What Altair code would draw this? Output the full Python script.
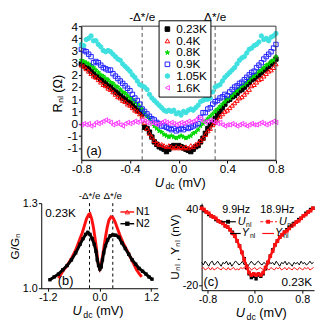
import altair as alt
import pandas as pd

FONT = "Liberation Sans"

# ---------------- panel (a): R_nl vs U_dc for several temperatures ----------------
A_V = [round(-0.80 + 0.02 * i, 2) for i in range(81)]
A_T = ["0.23K", "0.4K", "0.8K", "0.9K", "1.05K", "1.6K"]
A_R_023 = [2.45, 2.40, 2.30, 2.25, 2.15, 2.05, 1.95, 1.90, 1.80,
           1.75, 1.65, 1.55, 1.50, 1.40, 1.30, 1.25, 1.15, 1.05,
           1.00, 0.90, 0.85, 0.75, 0.65, 0.55, 0.50, 0.40, -0.15,
           -0.20, -0.35, -0.55, -0.75, -0.85, -0.95, -1.00, -1.05, -1.15,
           -1.05, -0.95, -0.90, -0.95, -0.90, -0.95, -1.00, -1.05, -1.10,
           -1.15, -1.05, -0.95, -0.90, -0.75, -0.60, -0.40, -0.20, -0.05,
           0.05, 0.20, 0.35, 0.50, 0.65, 0.80, 0.95, 1.00, 1.10,
           1.15, 1.25, 1.35, 1.40, 1.50, 1.60, 1.70, 1.80, 1.85,
           1.95, 2.00, 2.10, 2.20, 2.25, 2.35, 2.45, 2.55, 2.65]
A_R_04 = [2.40, 2.35, 2.25, 2.15, 2.05, 1.95, 1.90, 1.80, 1.70,
          1.60, 1.55, 1.45, 1.40, 1.30, 1.20, 1.10, 1.05, 0.95,
          0.90, 0.80, 0.75, 0.65, 0.55, 0.50, 0.40, 0.30, 0.05,
          -0.20, -0.40, -0.55, -0.70, -0.80, -0.85, -0.85, -0.90, -0.95,
          -0.90, -0.95, -1.00, -0.95, -1.00, -0.95, -1.00, -0.95, -1.00,
          -0.90, -0.95, -0.85, -0.80, -0.70, -0.60, -0.45, -0.30, -0.20,
          -0.05, 0.05, 0.15, 0.30, 0.40, 0.50, 0.55, 0.65, 0.75,
          0.85, 0.95, 1.05, 1.10, 1.20, 1.30, 1.40, 1.55, 1.60,
          1.70, 1.80, 1.85, 1.95, 2.05, 2.15, 2.20, 2.30, 2.45]
A_R_08 = [2.60, 2.55, 2.50, 2.45, 2.40, 2.30, 2.20, 2.10, 2.00,
          1.95, 1.85, 1.80, 1.70, 1.65, 1.55, 1.50, 1.40, 1.30,
          1.25, 1.15, 1.05, 1.00, 0.90, 0.80, 0.70, 0.60, 0.45,
          0.30, 0.20, 0.05, -0.10, -0.20, -0.30, -0.35, -0.45, -0.50,
          -0.55, -0.50, -0.55, -0.60, -0.55, -0.50, -0.55, -0.60, -0.55,
          -0.50, -0.40, -0.35, -0.25, -0.10, 0.00, 0.10, 0.20, 0.30,
          0.40, 0.50, 0.60, 0.70, 0.80, 0.90, 1.00, 1.05, 1.15,
          1.25, 1.35, 1.45, 1.55, 1.60, 1.70, 1.80, 1.90, 1.95,
          2.05, 2.15, 2.20, 2.30, 2.40, 2.45, 2.55, 2.60, 2.75]
A_R_09 = [3.05, 3.00, 2.95, 2.85, 2.75, 2.50, 2.55, 2.50, 2.40,
          2.30, 2.25, 2.20, 2.20, 2.05, 1.95, 1.85, 1.75, 1.65,
          1.55, 1.45, 1.35, 1.20, 1.05, 0.95, 0.80, 0.60, 0.50,
          0.40, 0.30, 0.20, 0.15, 0.05, 0.00, -0.10, -0.10, -0.15,
          -0.20, -0.25, -0.20, -0.30, -0.25, -0.20, -0.25, -0.15, -0.20,
          -0.15, -0.10, -0.05, 0.00, 0.25, 0.45, 0.45, 0.60, 0.65,
          0.80, 0.90, 0.95, 1.05, 1.10, 1.20, 1.15, 1.30, 1.40,
          1.50, 1.55, 1.65, 1.70, 1.80, 1.90, 2.00, 2.10, 2.15,
          2.30, 2.40, 2.50, 2.65, 2.75, 2.85, 2.95, 3.10, 3.25]
A_R_105 = [3.25, 3.20, 3.45, 3.50, 3.60, 3.40, 3.40, 3.25, 3.15,
           3.00, 2.95, 3.00, 2.95, 2.85, 2.75, 2.65, 2.60, 2.45,
           2.35, 2.25, 2.15, 2.00, 1.90, 1.75, 1.60, 1.55, 1.50,
           1.40, 1.20, 1.05, 0.95, 0.85, 0.75, 0.65, 0.55, 0.50,
           0.55, 0.50, 0.55, 0.40, 0.45, 0.35, 0.50, 0.45, 0.55,
           0.60, 0.55, 0.65, 0.75, 0.90, 0.95, 1.00, 1.00, 1.05,
           1.30, 1.50, 1.55, 1.60, 1.75, 1.90, 2.00, 2.10, 2.20,
           2.30, 2.45, 2.60, 2.70, 2.75, 2.90, 3.05, 3.10, 3.20,
           3.25, 3.35, 3.60, 3.45, 3.50, 3.40, 3.55, 3.60, 3.70]
A_R_16 = [-0.05, 0.00, -0.05, 0.00, -0.10, -0.05, 0.05, 0.00, 0.05,
          0.10, 0.15, 0.10, 0.05, -0.05, 0.00, 0.05, -0.05, -0.10,
          0.00, 0.05, 0.00, 0.05, 0.10, 0.05, 0.10, 0.15, 0.10,
          0.05, 0.00, 0.05, 0.00, -0.05, 0.00, 0.05, 0.10, 0.05,
          0.00, 0.05, 0.00, -0.05, 0.00, 0.05, 0.00, 0.05, 0.10,
          0.05, 0.10, 0.15, 0.25, 0.20, 0.10, 0.05, 0.10, 0.15,
          0.10, 0.05, 0.00, 0.05, -0.05, -0.10, -0.05, -0.05, 0.00,
          -0.05, -0.10, -0.05, 0.00, -0.05, -0.10, -0.05, 0.00, -0.05,
          -0.05, 0.00, 0.05, 0.00, -0.05, 0.00, 0.05, 0.10, 0.05]
A_R = [A_R_023, A_R_04, A_R_08, A_R_09, A_R_105, A_R_16]
STAR = ("M0,-1L0.235,-0.324L0.951,-0.309L0.38,0.124L0.588,0.809L0,0.4"
        "L-0.588,0.809L-0.38,0.124L-0.951,-0.309L-0.235,-0.324Z")
A_COLORS = ["#000000", "#ff0000", "#00d800", "#2020ff", "#3fe0e0", "#ff3cff"]
A_FILLS = ["#000000", "transparent", "#00d800", "transparent", "#3fe0e0", "transparent"]
A_SHAPES = ["square", "triangle-up", STAR, "square", "circle", "triangle-left"]
A_XTICKS = [-0.8, -0.7, -0.6, -0.5, -0.4, -0.3, -0.2, -0.1, 0.0,
            0.1, 0.2, 0.3, 0.4, 0.5, 0.6, 0.7, 0.8]
A_YTICKS = [-1, -0.5, 0, 0.5, 1, 1.5, 2, 2.5, 3, 3.5, 4]
A_DASH = [-0.3, 0.3]
A_DASH_LAB = ["-Δ*/e", "Δ*/e"]

# ---------------- panel (b): G/G_n ----------------
B_N1_V = [-0.95, -0.85, -0.75, -0.65, -0.55, -0.45, -0.40, -0.35, -0.30, -0.25,
          -0.22, -0.18, -0.14, -0.10, -0.07, -0.04, -0.02, 0.01, 0.04, 0.07,
          0.10, 0.14, 0.18, 0.22, 0.27, 0.31, 0.36, 0.42, 0.48, 0.55,
          0.62, 0.70, 0.78, 0.86, 0.93, 0.98]
B_N1_G = [1.035, 1.06, 1.08, 1.105, 1.135, 1.175, 1.195, 1.22, 1.245, 1.26,
          1.263, 1.245, 1.215, 1.175, 1.14, 1.10, 1.08, 1.068, 1.08, 1.11,
          1.14, 1.18, 1.215, 1.24, 1.252, 1.25, 1.235, 1.21, 1.185, 1.16,
          1.14, 1.115, 1.09, 1.065, 1.05, 1.04]
B_N2_V = [-1.15, -1.05, -0.95, -0.85, -0.75, -0.65, -0.55, -0.45, -0.38, -0.32,
          -0.27, -0.22, -0.17, -0.12, -0.08, -0.05, -0.02, 0.01, 0.04, 0.07,
          0.10, 0.14, 0.19, 0.25, 0.31, 0.38, 0.45, 0.52, 0.60, 0.68,
          0.76, 0.84, 0.92, 1.00, 1.08, 1.15, 1.22]
B_N2_G = [1.03, 1.04, 1.05, 1.065, 1.08, 1.10, 1.125, 1.155, 1.175, 1.19,
          1.197, 1.19, 1.175, 1.155, 1.13, 1.10, 1.08, 1.068, 1.075, 1.10,
          1.125, 1.15, 1.17, 1.185, 1.188, 1.187, 1.18, 1.16, 1.14, 1.12,
          1.10, 1.085, 1.07, 1.06, 1.05, 1.04, 1.032]
B_XTICKS = [-1.2, -0.9, -0.6, -0.3, 0.0, 0.3, 0.6, 0.9, 1.2]
B_YTICKS = [1.0, 1.05, 1.1, 1.15, 1.2, 1.25, 1.3]
B_DASH = [-0.23, 0.31]

# ---------------- panel (c): U_nl, Y_nl ----------------
C_VU = [round(-0.90 + 0.04 * i, 2) for i in range(48)]
C_U_99 = [42, 39, 38, 36, 35, 34, 32, 31,
          30, 29, 27, 26, 24, 22, 19, 15,
          11, 6, 1, -6, -11, -14, -13, -15,
          -12, -13, -11, -7, -2, 3, 8, 12,
          15, 18, 20, 22, 24, 26, 27, 29,
          30, 32, 33, 35, 37, 38, 40, 41]
C_U_189 = [41, 40, 38, 37, 35, 34, 33, 31,
           30, 29, 27, 26, 24, 21, 19, 15,
           11, 6, 0, -5, -10, -12, -11, -12,
           -11, -12, -10, -6, -2, 3, 7, 12,
           15, 18, 20, 22, 23, 25, 27, 28,
           30, 31, 33, 35, 36, 38, 39, 41]
C_VY = [round(-0.90 + 0.03 * i, 2) for i in range(64)]
C_Y_99 = [-2, -4, -1, -3, -5, -2, -1, -4,
          -3, -1, -3, -5, -2, -3, -1, -4,
          -2, -5, -3, -1, -2, -4, -3, -1,
          -4, -2, -5, -3, -1, -3, -4, -2,
          -1, -3, -4, -2, -3, -5, -1, -3,
          -2, -4, -1, -3, -5, -2, -3, -1,
          -4, -2, -3, -5, -2, -3, -2, -4,
          -1, -3, -2, -4, -3, -1, -3, -2]
C_Y_189 = [-7, -6, -8, -7, -6, -8, -6, -8,
           -7, -6, -7, -8, -6, -7, -8, -6,
           -8, -7, -6, -8, -7, -8, -6, -7,
           -6, -8, -7, -6, -8, -7, -6, -8,
           -7, -6, -7, -8, -6, -7, -8, -6,
           -7, -8, -6, -7, -6, -8, -7, -6,
           -8, -6, -7, -8, -6, -7, -8, -6,
           -7, -8, -6, -7, -6, -8, -7, -6]
C_XTICKS = [-0.8, -0.6, -0.4, -0.2, 0.0, 0.2, 0.4, 0.6, 0.8]
C_YTICKS = [-20, -10, 0, 10, 20, 30, 40]

# ---------------- sizes ----------------
WA, HA = 199, 137
WB, HB = 119, 87
WC, HC = 115, 89
LEFT_A = 41

ONE = pd.DataFrame({"k": [0]})


def txt(x, y, s, size=12, align="left", baseline="middle", style="normal", color="black"):
    return alt.Chart(pd.DataFrame({"t": [s]})).mark_text(
        align=align, baseline=baseline, fontSize=size, font=FONT,
        fontStyle=style, color=color).encode(
        x=alt.value(x), y=alt.value(y), text="t:N")


def seg(x1, x2, y, color, width=1.5, dash=None):
    kw = dict(color=color, strokeWidth=width)
    if dash:
        kw["strokeDash"] = dash
    return alt.Chart(ONE).mark_rule(**kw).encode(
        x=alt.value(x1), x2=alt.value(x2), y=alt.value(y))


def sym(x, y, shape, color, filled, size=20):
    return alt.Chart(ONE).mark_point(shape=shape, filled=filled, color=color,
                                     size=size, opacity=1, strokeWidth=1).encode(
        x=alt.value(x), y=alt.value(y))


def frame(w, h):
    return alt.Chart(ONE).mark_rect(fill="white", fillOpacity=0, stroke="#333",
                                    strokeWidth=1).encode(
        x=alt.value(0), x2=alt.value(w), y=alt.value(0), y2=alt.value(h))


def udc_title(cx, base):
    x0 = cx - 25
    return [txt(x0, base, "U", 13, baseline="alphabetic", style="italic"),
            txt(x0 + 11, base + 3, "dc", 9, baseline="alphabetic"),
            txt(x0 + 24, base, "(mV)", 13, baseline="alphabetic")]


def sub_label(x, y, main, sub, color="black", size=11):
    return [txt(x, y, main, size, style="italic", color=color),
            txt(x + 8.5, y + 3, sub, 7, color=color)]


def lab_expr(mult, scale, fmt):
    return ("abs(round(datum.value*%d)) %% %d == 0 ? "
            "replace(format(datum.value, '%s'), '\u2212', '-') : ''" % (scale, mult, fmt))


def axis(values, expr, title=None, lsize=12, **kw):
    return alt.Axis(values=values, labelExpr=expr, title=title, tickSize=3,
                    labelPadding=1, labelFontSize=lsize, labelFlush=False,
                    labelOverlap=False, grid=False, **kw)


# ---------------- build panel (a) ----------------
rows = []
for t, vals in zip(A_T, A_R):
    for v, r in zip(A_V, vals):
        rows.append({"V": v, "R": r, "T": t})
dfa = pd.DataFrame(rows)

leg = alt.Legend(title=None, orient="none", legendX=LEFT_A + 79, legendY=-6, direction="vertical",
                 strokeColor="black", fillColor="white", padding=3, rowPadding=0,
                 labelFontSize=12, labelFont=FONT, symbolSize=22, labelOffset=3,
                 symbolStrokeWidth=1, labelLimit=80)
xa = alt.X("V:Q", scale=alt.Scale(domain=[-0.8, 0.8], nice=False, zero=False),
           axis=axis(A_XTICKS, lab_expr(4, 10, ".1f")))
ya = alt.Y("R:Q", scale=alt.Scale(domain=[-1.5, 4], nice=False, zero=False),
           axis=axis(A_YTICKS, lab_expr(1, 1, "d"), title="Rₙₗ (Ω)", titleFontSize=13,
                     titlePadding=3, titleFont=FONT))
pts_a = alt.Chart(dfa).mark_point(opacity=1, size=20, strokeWidth=1).encode(
    x=xa, y=ya,
    stroke=alt.Stroke("T:N", scale=alt.Scale(domain=A_T, range=A_COLORS), legend=leg),
    fill=alt.Fill("T:N", scale=alt.Scale(domain=A_T, range=A_FILLS), legend=leg),
    shape=alt.Shape("T:N", scale=alt.Scale(domain=A_T, range=A_SHAPES), legend=leg),
)
dash_df_a = pd.DataFrame({"V": A_DASH, "lab": A_DASH_LAB})
dash_a = alt.Chart(dash_df_a).mark_rule(color="#555", strokeDash=[4, 3], strokeWidth=1).encode(x="V:Q")
dlab_a = alt.Chart(dash_df_a).mark_text(baseline="bottom", fontSize=12, font=FONT).encode(
    x="V:Q", y=alt.value(-2), text="lab:N")
panel_a = alt.layer(
    dash_a, pts_a, dlab_a, frame(WA, HA),
    txt(5, HA - 9, "(a)", 13),
    *udc_title(100, HA + 27),
).properties(width=WA, height=HA)

spacer = alt.Chart(ONE).mark_point(opacity=0).encode(
    x=alt.value(0), y=alt.value(0)).properties(width=LEFT_A, height=HA)
row1 = alt.hconcat(spacer, panel_a, spacing=0, bounds="flush")

# ---------------- build panel (b) ----------------
df_n1 = pd.DataFrame({"V": B_N1_V, "G": B_N1_G})
df_n2 = pd.DataFrame({"V": B_N2_V, "G": B_N2_G})
xb = alt.X("V:Q", scale=alt.Scale(domain=[-1.35, 1.35], nice=False, zero=False),
           axis=axis(B_XTICKS, lab_expr(6, 10, ".1f"), lsize=11))
yb = alt.Y("G:Q", scale=alt.Scale(domain=[1.0, 1.3], nice=False, zero=False),
           axis=axis(B_YTICKS, lab_expr(10, 100, ".1f"), title="G/Gₙ", lsize=11,
                     titleFontSize=12, titlePadding=1, titleFont=FONT))
line_n1 = alt.Chart(df_n1).mark_line(color="#ff1010", strokeWidth=3).encode(x=xb, y=yb)
line_n2 = alt.Chart(df_n2).mark_line(color="black", strokeWidth=3).encode(x="V:Q", y="G:Q")
pts_n2 = alt.Chart(df_n2).mark_point(shape="square", filled=True, color="black",
                                     size=12, opacity=1).encode(x="V:Q", y="G:Q")
dash_df_b = pd.DataFrame({"V": B_DASH, "lab": A_DASH_LAB})
dash_b = alt.Chart(dash_df_b).mark_rule(color="black", strokeDash=[3, 3], strokeWidth=1).encode(x="V:Q")
dlab_b = alt.Chart(dash_df_b).mark_text(baseline="bottom", fontSize=10, font=FONT).encode(
    x="V:Q", y=alt.value(-2), text="lab:N")
panel_b = alt.layer(
    dash_b, line_n1, line_n2, pts_n2, dlab_b,
    txt(4, 10, "0.23K", 12),
    txt(17, HB - 7, "(b)", 13),
    seg(WB - 38, WB - 24, 9, "#ff1010", 1.5), sym(WB - 31, 9, "triangle-up", "#ff1010", False, 20),
    txt(WB - 22, 9, "N1", 11),
    seg(WB - 38, WB - 24, 21, "black", 1.5), sym(WB - 31, 21, "square", "black", True, 20),
    txt(WB - 22, 21, "N2", 11),
    *udc_title(57, HB + 27),
).properties(width=WB, height=HB)

# ---------------- build panel (c) ----------------
df_u99 = pd.DataFrame({"V": C_VU, "U": C_U_99})
df_u189 = pd.DataFrame({"V": C_VU, "U": C_U_189})
df_y99 = pd.DataFrame({"V": C_VY, "U": C_Y_99})
df_y189 = pd.DataFrame({"V": C_VY, "U": C_Y_189})
xc = alt.X("V:Q", scale=alt.Scale(domain=[-0.9, 1.0], nice=False, zero=False),
           axis=axis(C_XTICKS, lab_expr(4, 10, ".1f"), lsize=11))
yc = alt.Y("U:Q", scale=alt.Scale(domain=[-24, 45], nice=False, zero=False),
           axis=axis(C_YTICKS, lab_expr(20, 1, "d"), title="Uₙₗ , Yₙₗ (nV)", lsize=11,
                     titleFontSize=12, titlePadding=1, titleFont=FONT))
y99 = alt.Chart(df_y99).mark_line(color="black", strokeWidth=1).encode(x=xc, y=yc)
y189 = alt.Chart(df_y189).mark_line(color="#ff1010", strokeWidth=1).encode(x="V:Q", y="U:Q")
u99l = alt.Chart(df_u99).mark_line(color="black", strokeWidth=1).encode(x="V:Q", y="U:Q")
u99p = alt.Chart(df_u99).mark_point(shape="square", filled=True, color="black",
                                    size=12, opacity=1).encode(x="V:Q", y="U:Q")
u189l = alt.Chart(df_u189).mark_line(color="#ff1010", strokeWidth=2.5).encode(x="V:Q", y="U:Q")
u189p = alt.Chart(df_u189).mark_point(shape="square", filled=True, color="#ff1010",
                                      size=14, opacity=1).encode(x="V:Q", y="U:Q")
panel_c = alt.layer(
    y99, y189, u99l, u99p, u189l, u189p,
    txt(21, 7, "9.9Hz", 11), txt(60, 7, "18.9Hz", 11),
    seg(20, 35, 19, "black", 1.2), sym(27, 19, "square", "black", True, 16),
    *sub_label(37, 19, "U", "nl"),
    seg(60, 77, 19, "#ff1010", 1.2, [3, 2]), sym(68, 19, "square", "#ff1010", True, 16),
    *sub_label(79, 19, "U", "nl"),
    seg(29, 40, 31, "black", 1.2),
    *sub_label(41, 31, "Y", "nl"),
    seg(62, 74, 31, "#ff1010", 1.2),
    *sub_label(75, 31, "Y", "nl"),
    txt(2, HC - 8, "(c)", 13),
    txt(WC - 2, HC - 8, "0.23K", 12, align="right"),
    *udc_title(60, HC + 27),
).properties(width=WC, height=HC)

row2 = alt.hconcat(panel_b, panel_c, spacing=45, bounds="flush")
chart = alt.vconcat(row1, row2, spacing=0).properties(padding=0)
chart = chart.configure_view(stroke=None).configure_axis(
    domainColor="black", tickColor="black", labelColor="black", titleColor="black",
    labelFont=FONT, titleFont=FONT, titleFontWeight="normal"
).configure_text(font=FONT)

chart.save("out.html", embed_options={"renderer": "svg", "actions": False})
